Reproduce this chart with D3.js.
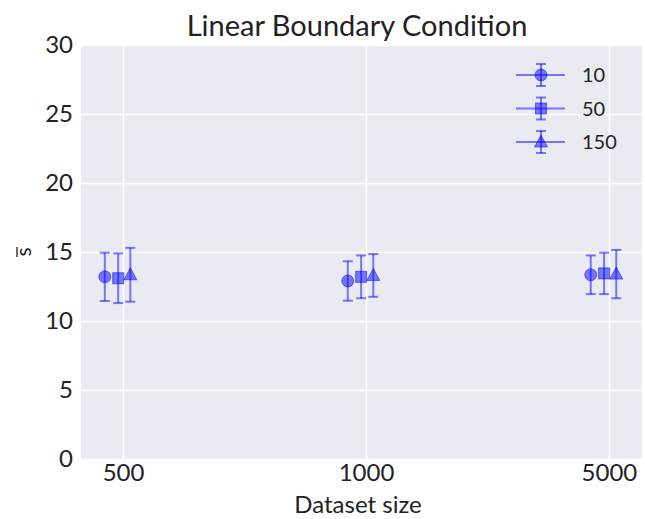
<!DOCTYPE html>
<html><head><meta charset="utf-8">
<script src="https://cdn.jsdelivr.net/npm/d3@7"></script>
<style>body{margin:0;background:#fff}svg{display:block}text{font-family:Lato,"Open Sans",sans-serif;fill:#222}</style>
</head><body>
<script>
const categories = ["500", "1000", "5000"];
const seriesNames = ["10", "50", "150"];
const seriesMarkers = ["circle", "square", "triangle"];
const seriesOffsets = [-0.075, -0.02, 0.03];
const meanValues = [
  [13.2, 12.9, 13.35],
  [13.1, 13.2, 13.45],
  [13.35, 13.3, 13.4]
];
const errValues = [
  [1.75, 1.43, 1.4],
  [1.8, 1.55, 1.5],
  [1.95, 1.55, 1.75]
];
const yTicks = [0, 5, 10, 15, 20, 25, 30];

const W = 645, H = 519;
const L = 81, R = 642, T = 45, B = 459;
const svg = d3.select("body").append("svg").attr("width", W).attr("height", H);
const x = d3.scaleLinear().domain([-0.173, 2.136]).range([L, R]);
const y = d3.scaleLinear().domain([0, 30]).range([B, T]);
const blue = "#0000ff";

svg.append("rect").attr("x", L).attr("y", T).attr("width", R - L).attr("height", B - T).attr("fill", "#eaeaf2");

// grid
const gy = svg.append("g").call(d3.axisLeft(y).tickValues(yTicks).tickSize(-(R - L)).tickFormat(""))
  .attr("transform", `translate(${L},0)`);
gy.select(".domain").remove();
gy.selectAll("line").attr("stroke", "#fff").attr("stroke-width", 1.5);
const gx = svg.append("g").call(d3.axisBottom(x).tickValues([0, 1, 2]).tickSize(-(B - T)).tickFormat(""))
  .attr("transform", `translate(0,${B})`);
gx.select(".domain").remove();
gx.selectAll("line").attr("stroke", "#fff").attr("stroke-width", 1.5);

// tick labels
const yl = svg.append("g").attr("transform", `translate(${L},0)`)
  .call(d3.axisLeft(y).tickValues(yTicks).tickSize(0).tickPadding(8));
yl.select(".domain").remove();
yl.selectAll("text").attr("font-size", 24).attr("font-family", "Lato,sans-serif").attr("fill", "#222");
const xl = svg.append("g").attr("transform", `translate(0,${B})`)
  .call(d3.axisBottom(x).tickValues([0, 1, 2]).tickSize(0).tickPadding(5).tickFormat(i => categories[i]));
xl.select(".domain").remove();
xl.selectAll("text").attr("font-size", 24).attr("font-family", "Lato,sans-serif").attr("fill", "#222");

function marker(g, type, cx, cy) {
  let m;
  if (type === "circle") m = g.append("circle").attr("cx", cx).attr("cy", cy).attr("r", 6);
  else if (type === "square") m = g.append("rect").attr("x", cx - 5.5).attr("y", cy - 5.5).attr("width", 11).attr("height", 11);
  else m = g.append("path").attr("d", `M${cx},${cy - 7}L${cx + 6.5},${cy + 5}L${cx - 6.5},${cy + 5}Z`);
  m.attr("fill", blue).attr("fill-opacity", 0.5).attr("stroke", blue).attr("stroke-opacity", 0.5).attr("stroke-width", 1);
}
function errbar(g, cx, y1, y2) {
  const s = { stroke: blue, "stroke-opacity": 0.5, "stroke-width": 2 };
  const a = (el) => { for (const k in s) el.attr(k, s[k]); return el; };
  a(g.append("line").attr("x1", cx).attr("x2", cx).attr("y1", y1).attr("y2", y2));
  a(g.append("line").attr("x1", cx - 5).attr("x2", cx + 5).attr("y1", y1).attr("y2", y1));
  a(g.append("line").attr("x1", cx - 5).attr("x2", cx + 5).attr("y1", y2).attr("y2", y2));
}

const plot = svg.append("g");
seriesNames.forEach((name, si) => {
  categories.forEach((c, ci) => {
    const cx = x(ci + seriesOffsets[si]);
    const m = meanValues[si][ci], e = errValues[si][ci];
    errbar(plot, cx, y(m + e), y(m - e));
    marker(plot, seriesMarkers[si], cx, y(m));
  });
});

// legend
const leg = svg.append("g");
seriesNames.forEach((name, si) => {
  const ly = 75 + si * 33.5;
  leg.append("line").attr("x1", 516).attr("x2", 565).attr("y1", ly).attr("y2", ly)
    .attr("stroke", blue).attr("stroke-opacity", 0.5).attr("stroke-width", 2);
  errbar(leg, 541, ly - 11, ly + 11);
  marker(leg, seriesMarkers[si], 541, ly);
  leg.append("text").attr("x", 582).attr("y", ly).attr("dy", "0.35em").attr("font-size", 20).text(name);
});

// title & labels
svg.append("text").attr("x", 357).attr("y", 36).attr("text-anchor", "middle").attr("font-size", 29).text("Linear Boundary Condition");
svg.append("text").attr("x", 358).attr("y", 513).attr("text-anchor", "middle").attr("font-size", 24).text("Dataset size");
const ylab = svg.append("g").attr("transform", `translate(26,${(T + B) / 2}) rotate(-90)`);
ylab.append("text").attr("x", 0).attr("y", 5).attr("text-anchor", "middle").attr("font-size", 21).text("s");
ylab.append("line").attr("x1", -5).attr("x2", 5).attr("y1", -9).attr("y2", -9).attr("stroke", "#222").attr("stroke-width", 1.3);
</script>
</body></html>
